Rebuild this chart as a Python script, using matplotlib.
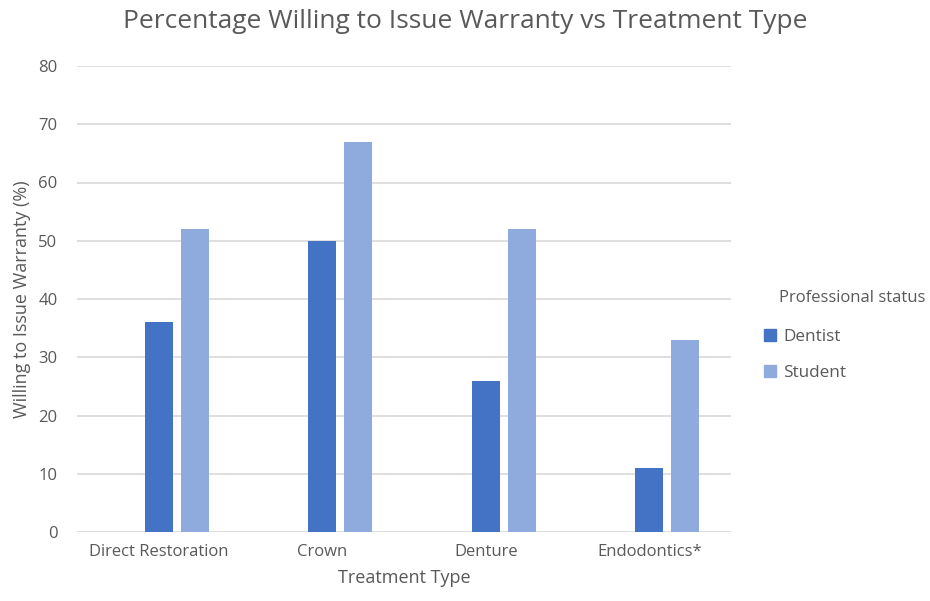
import numpy as np
import matplotlib
matplotlib.use('Agg')
import matplotlib.pyplot as plt
from matplotlib.patches import Patch

plt.rcParams['font.family'] = ['Open Sans', 'DejaVu Sans']

categories = ['Direct Restoration', 'Crown', 'Denture', 'Endodontics*']
dentist = [36, 50, 26, 11]
student = [52, 67, 52, 33]

gris = '#595959'
c_dentist = '#4472C4'
c_student = '#8FAADC'

fig = plt.figure(figsize=(9.3, 6.01), dpi=100)
ax = fig.add_axes([77/930, 69/601, 654/930, 466/601])

x = np.arange(len(categories))
ancho = 28/163.5
paso = 36/163.5
ax.bar(x, dentist, ancho, color=c_dentist, zorder=3)
ax.bar(x + paso, student, ancho, color=c_student, zorder=3)

ax.set_xlim(-0.5, len(categories) - 0.5)
ax.set_ylim(0, 80)
ax.set_yticks(range(0, 81, 10))
ax.set_xticks(x)
ax.set_xticklabels(categories)
ax.yaxis.grid(True, color='#D9D9D9', linewidth=1.2, zorder=0)
for s in ['top', 'right', 'left', 'bottom']:
    ax.spines[s].set_visible(False)
ax.tick_params(axis='both', length=0, colors=gris, labelsize=12)
ax.tick_params(axis='y', pad=14)
ax.tick_params(axis='x', pad=9)

ax.set_ylabel('Willing to Issue Warranty (%)', color=gris, fontsize=13, labelpad=5)
ax.set_xlabel('Treatment Type', color=gris, fontsize=13, labelpad=6)
fig.text(0.5, 1 - 22/601, 'Percentage Willing to Issue Warranty vs Treatment Type',
         ha='center', va='center', color=gris, fontsize=19)

# leyenda: titulo alineado con el texto, no con los cuadrados
fig.text(779/930, 1 - 298/601, 'Professional status', ha='left', va='center',
         color=gris, fontsize=12)
handles = [Patch(color=c_dentist, label='Dentist'), Patch(color=c_student, label='Student')]
leg = fig.legend(handles=handles, loc='upper left',
                 bbox_to_anchor=(749/930, 1 - 314/601), frameon=False,
                 fontsize=12.3, handlelength=0.7, handleheight=0.7,
                 handletextpad=0.4, labelspacing=1.15, labelcolor=gris)

fig.savefig('out.png', dpi=100)
